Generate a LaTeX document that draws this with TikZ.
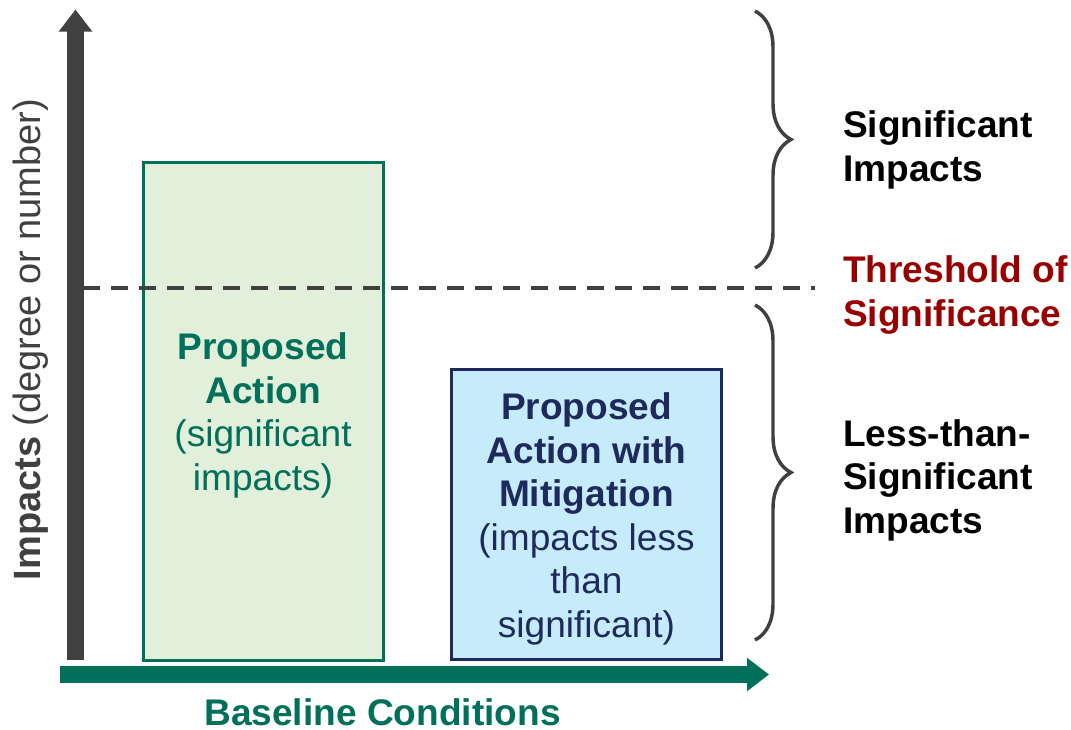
\documentclass[tikz,border=0pt]{standalone}
\usepackage{fontspec}
\setmainfont{Liberation Sans}
\usetikzlibrary{arrows.meta,decorations.pathreplacing}

\definecolor{axisgrey}{HTML}{404040}
\definecolor{teal}{HTML}{00705A}
\definecolor{lightgreen}{HTML}{E2EFDA}
\definecolor{navy}{HTML}{1F2A5C}
\definecolor{lightblue}{HTML}{C6ECFC}
\definecolor{darkred}{HTML}{990000}

\tikzset{
  bigtext/.style={font=\fontsize{27.8}{32.6}\selectfont, align=center},
  boldtext/.style={font=\fontsize{27.8}{32.6}\selectfont\bfseries},
  axisarrow/.style={line width=12.75pt, -{Triangle[width=24pt, length=16.5pt]}},
  impactbox/.style={draw, line width=2.25pt, inner sep=0pt},
  impactbrace/.style={axisgrey, line width=2.6pt, decorate,
    decoration={brace, amplitude=27pt, aspect=0.5}},
  bracelabel/.style={boldtext, anchor=west, align=left}
}

\begin{document}
\begin{tikzpicture}[x=0.75pt, y=-0.75pt]
  \useasboundingbox (0,0) rectangle (1071,729);

  % axes
  \coordinate (ybottom) at (75.5,660);
  \coordinate (ytop) at (75.5,9.5);
  \coordinate (xleft) at (60,674.5);
  \coordinate (xright) at (769,674.5);
  \draw [axisarrow, axisgrey] (ybottom) -- (ytop);
  \draw [axisarrow, teal] (xleft) -- (xright);

  % axis labels
  \node [bigtext, font=\fontsize{28.5}{32.6}\selectfont, text=axisgrey, rotate=90] (ylabel) at (31,339.5)
    {\textbf{Impacts} (degree or number)};
  \node [boldtext, text=teal] (xlabel) at (382.5,712)
    {Baseline Conditions};

  % bars for the two alternatives
  \node [impactbox, draw=teal, fill=lightgreen,
    minimum width=180pt, minimum height=373.5pt] (proposed) at (263,411) {};
  \node [bigtext, text=teal] (proposedtext) at (263,415.5)
    {\textbf{Proposed}\\\textbf{Action}\\(significant\\impacts)};
  \node [impactbox, draw=navy, fill=lightblue,
    minimum width=203pt, minimum height=218pt] (mitigated) at (586.5,514.5) {};
  \node [bigtext, text=navy] (mitigatedtext) at (586.5,519)
    {\textbf{Proposed}\\\textbf{Action with}\\\textbf{Mitigation}\\(impacts less\\than\\significant)};

  % threshold line
  \coordinate (tleft) at (83,288);
  \coordinate (tright) at (815,288);
  \draw [axisgrey, line width=2.5pt, dash pattern=on 12.75pt off 8.25pt] (tleft) -- (tright);

  % braces and their labels
  \coordinate (ubtop) at (755,11);
  \coordinate (ubbottom) at (755,268);
  \coordinate (lbtop) at (755,305);
  \coordinate (lbbottom) at (755,640);
  \draw [impactbrace] (ubtop) -- (ubbottom);
  \draw [impactbrace] (lbtop) -- (lbbottom);

  \node [bracelabel] (signif) at (838.5,150) {Significant\\Impacts};
  \node [bracelabel, text=darkred] (threshold) at (838.5,295) {Threshold of\\Significance};
  \node [bracelabel] (lessthan) at (838.5,480) {Less-than-\\Significant\\Impacts};
\end{tikzpicture}
\end{document}
